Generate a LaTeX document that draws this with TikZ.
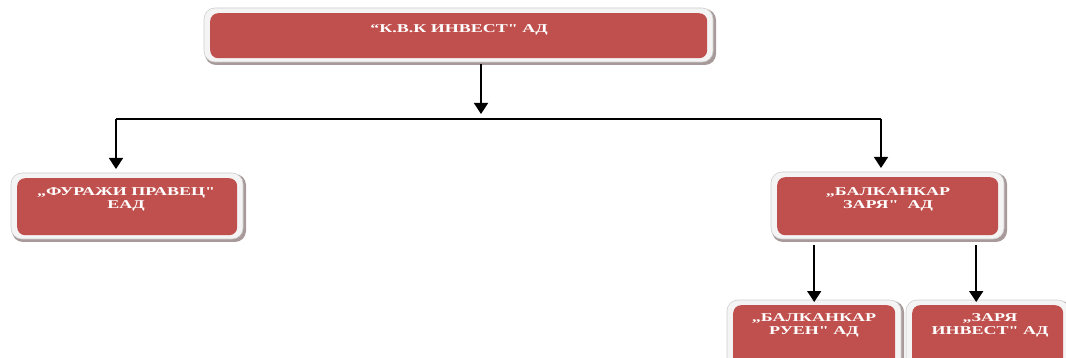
\documentclass[tikz,border=0pt]{standalone}
\usepackage{fontspec}
\newfontfamily\boxfont[FakeStretch=1.5]{Liberation Serif}
\usetikzlibrary{arrows.meta}
\definecolor{boxred}{HTML}{C0504D}
\definecolor{framec}{HTML}{F4F4F4}
\definecolor{frameedge}{HTML}{CFCFCF}
\definecolor{shadowc}{HTML}{A89A9A}
\tikzset{
  redbox/.style={fill=boxred, rounded corners=8pt, draw=none, inner sep=0pt},
  boxtext/.style={text=white, font=\boxfont\bfseries\fontsize{12}{13}\selectfont, align=center, anchor=north, inner sep=0pt},
  arr/.style={line width=1.6pt, -{Triangle[width=14pt,length=11pt]}},
  plainline/.style={line width=1.2pt},
}
% name, x1, y1, x2, y2
\newcommand\orgbox[5]{%
  \fill[shadowc, rounded corners=11pt] (#2-5,#3-4) rectangle (#4+9,#5+7);
  \filldraw[fill=framec, draw=frameedge, line width=0.6pt, rounded corners=11pt] (#2-6,#3-5) rectangle (#4+6,#5+4);
  \node[redbox, minimum width=#4-#2, minimum height=#5-#3, anchor=north west] (#1) at (#2,#3) {};
}
\begin{document}
\begin{tikzpicture}[x=1pt,y=-1pt]
\clip (0,0) rectangle (1066,358);
\fill[white] (0,0) rectangle (1066,358);

\orgbox{top}{210}{13}{707}{58}
\orgbox{fur}{17}{178}{237}{235}
\orgbox{zar}{777}{177}{998}{235}
\orgbox{ruen}{733}{305}{895}{372}
\orgbox{zinv}{912}{305}{1063}{372}

\node[boxtext] (toptext) at (459,24) {“К.В.К ИНВЕСТ" АД};
\node[boxtext] (furtext) at (126,187) {„ФУРАЖИ ПРАВЕЦ"\\ЕАД};
\node[boxtext] (zartext) at (888,187) {„БАЛКАНКАР\\ЗАРЯ"\ \ АД};
\node[boxtext] (ruentext) at (814,313) {„БАЛКАНКАР\\РУЕН" АД};
\node[boxtext] (zinvtext) at (990,313) {„ЗАРЯ\\ИНВЕСТ" АД};

\coordinate (hub) at (481,114);
\coordinate (hL) at (116,119);
\coordinate (hR) at (881,119);

\draw[arr, shorten <=6pt] (hub |- top.south) -- (hub);
\draw[plainline] (hL) -- (hR);
\draw[arr, shorten >=9pt] (hL) -- (hL |- fur.north);
\draw[arr, shorten >=9pt] (hR) -- (hR |- zar.north);
\draw[arr, shorten <=10pt, shorten >=3pt] (zar.south -| ruen.north) -- (ruen.north);
\draw[arr, shorten <=10pt, shorten >=3pt] ([xshift=-11.5pt]zinv.north |- zar.south) -- ([xshift=-11.5pt]zinv.north);
\end{tikzpicture}
\end{document}
